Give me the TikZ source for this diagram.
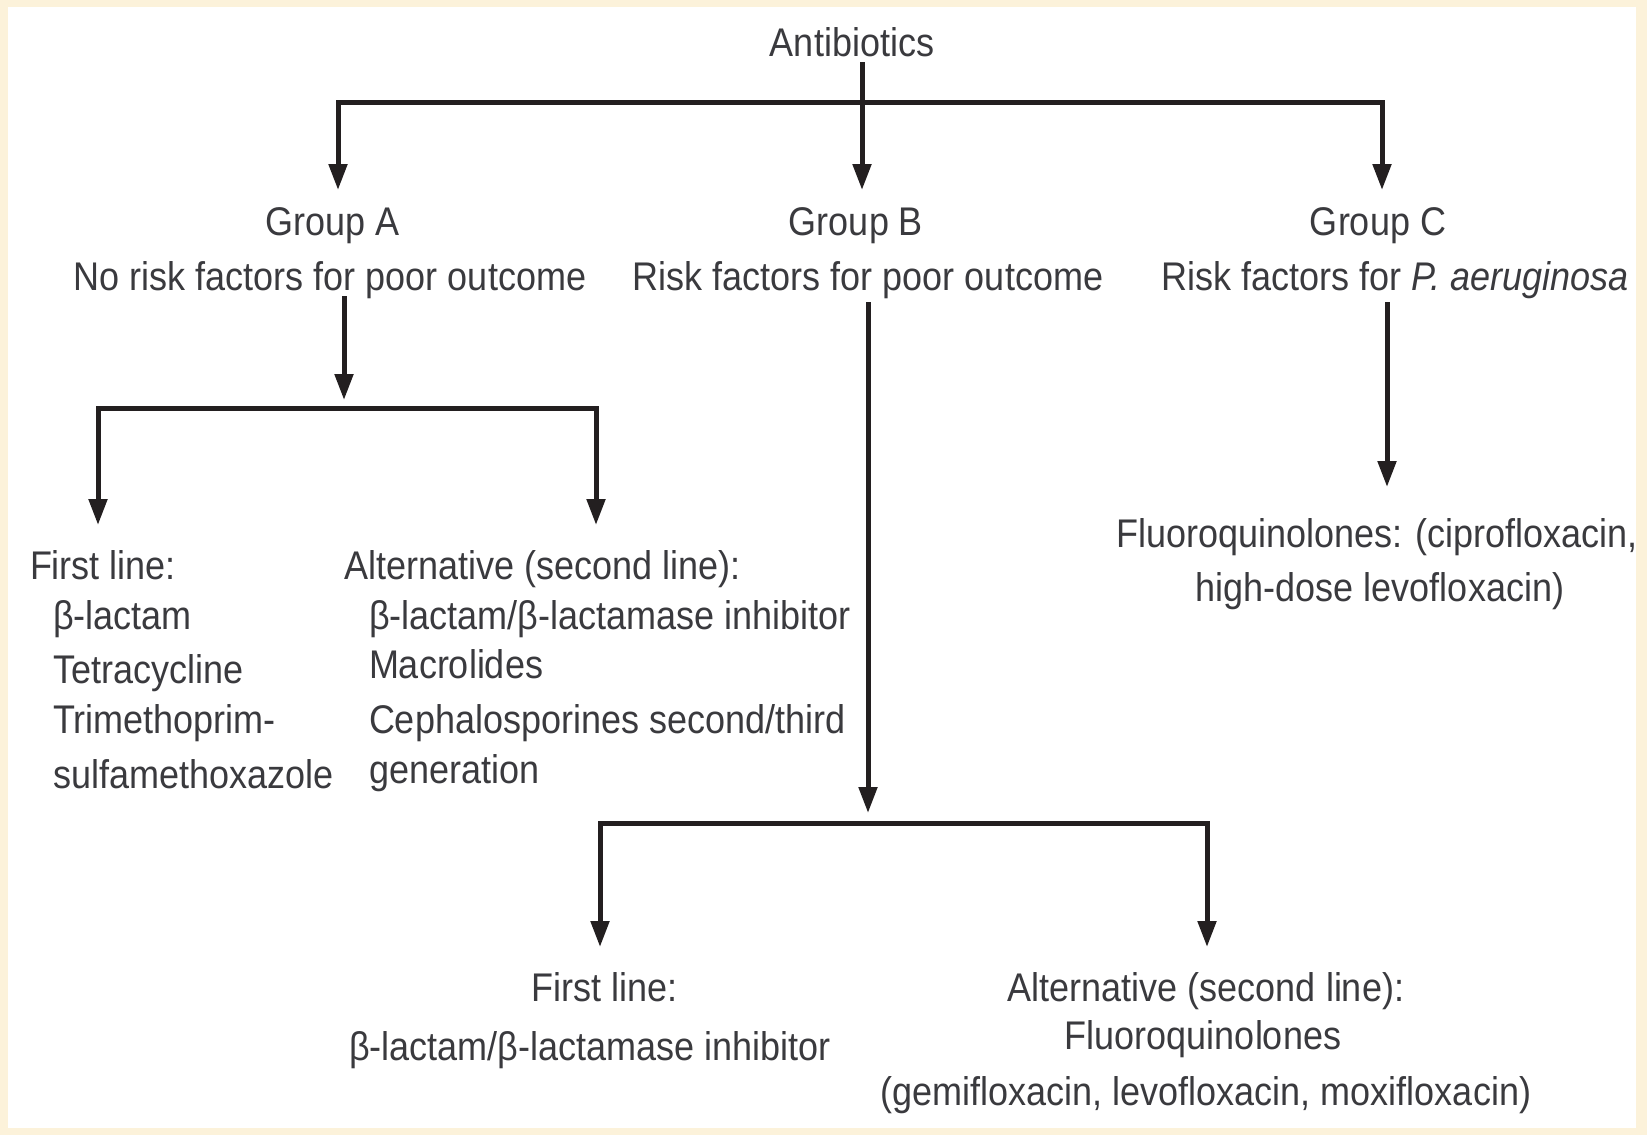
\documentclass[tikz,border=0pt]{standalone}
\usepackage{fontspec}
\setmainfont{Liberation Sans}[FakeStretch=0.9]
\usetikzlibrary{arrows.meta}
\definecolor{cream}{RGB}{252,242,218}
\definecolor{txtc}{RGB}{58,58,62}
\definecolor{linec}{RGB}{35,31,32}
\tikzset{
  txt/.style={inner sep=0pt, outer sep=0pt, text=txtc, font=\fontsize{20}{24}\selectfont},
  lnk/.style={draw=linec, line width=2.5pt},
  arr/.style={lnk, -{Triangle[width=9pt,length=13pt]}},
}
\begin{document}
\begin{tikzpicture}[x=0.5pt,y=-0.5pt]
\useasboundingbox (0,0) rectangle (1647,1135);
\fill[cream] (0,0) rectangle (1647,1135);
\fill[white] (8,7) rectangle (1636,1128);

% ---- texts ----
\node[txt, anchor=base] (anti) at (852,56) {Antibiotics};

\node[txt, anchor=base] (ga1) at (333,235) {Group A};
\node[txt, anchor=base] (ga2) at (330,290) {No risk factors for poor outcome};
\node[txt, anchor=base] (gb1) at (856,235) {Group B};
\node[txt, anchor=base] (gb2) at (868,290) {Risk factors for poor outcome};
\node[txt, anchor=base] (gc1) at (1378,235) {Group C};
\node[txt, anchor=base] (gc2) at (1395,290) {Risk factors for \textit{P. aeruginosa}};

\node[txt, anchor=base west] (af1) at (30,579) {First line:};
\node[txt, anchor=base west] (af2) at (53,629) {β-lactam};
\node[txt, anchor=base west] (af3) at (53,683) {Tetracycline};
\node[txt, anchor=base west] (af4) at (53,733) {Trimethoprim-};
\node[txt, anchor=base west] (af5) at (53,788) {sulfamethoxazole};

\node[txt, anchor=base west] (aa1) at (344,579) {Alternative (second line):};
\node[txt, anchor=base west] (aa2) at (369,629) {β-lactam/β-lactamase inhibitor};
\node[txt, anchor=base west] (aa3) at (369,678) {Macrolides};
\node[txt, anchor=base west] (aa4) at (369,733) {Cephalosporines second/third};
\node[txt, anchor=base west] (aa5) at (369,783) {generation};

\node[txt, anchor=base] (cf1) at (1377,547) {Fluoroquinolones: (ciprofloxacin,};
\node[txt, anchor=base] (cf2) at (1380,601) {high-dose levofloxacin)};

\node[txt, anchor=base] (bf1) at (605,1001) {First line:};
\node[txt, anchor=base] (bf2) at (590,1060) {β-lactam/β-lactamase inhibitor};
\node[txt, anchor=base] (ba1) at (1206,1001) {Alternative (second line):};
\node[txt, anchor=base] (ba2) at (1203,1049) {Fluoroquinolones};
\node[txt, anchor=base] (ba3) at (1206,1105) {(gemifloxacin, levofloxacin, moxifloxacin)};

% ---- junction coordinates ----
\coordinate (t0) at (862,62);
\coordinate (j0) at (862,102);
\coordinate (tA) at (338,190);
\coordinate (tB) at (862,190);
\coordinate (tC) at (1382,190);

\coordinate (sA) at (344,296);
\coordinate (hA) at (344,400);
\coordinate (bA1) at (96,408);
\coordinate (bA2) at (598,408);
\coordinate (tA1) at (98,525);
\coordinate (tA2) at (596,525);

\coordinate (sB) at (868,302);
\coordinate (hB) at (868,813);
\coordinate (bB1) at (598,823);
\coordinate (bB2) at (1209,823);
\coordinate (tB1) at (600,947);
\coordinate (tB2) at (1207,947);

\coordinate (sC) at (1387,302);
\coordinate (tC1) at (1387,487);

% ---- connectors ----
\draw[lnk] (t0) -- (j0);
\draw[arr] (j0) -| (tA);
\draw[arr] (j0) -| (tC);
\draw[arr] (j0) -- (tB);

\draw[arr] (sA) -- (hA);
\draw[lnk] (bA1) -- (bA2);
\draw[arr] ([yshift=1pt]bA1 -| tA1) -- (tA1);
\draw[arr] ([yshift=1pt]bA2 -| tA2) -- (tA2);

\draw[arr] (sB) -- (hB);
\draw[lnk] (bB1) -- (bB2);
\draw[arr] ([yshift=1pt]bB1 -| tB1) -- (tB1);
\draw[arr] ([yshift=1pt]bB2 -| tB2) -- (tB2);

\draw[arr] (sC) -- (tC1);
\end{tikzpicture}
\end{document}
